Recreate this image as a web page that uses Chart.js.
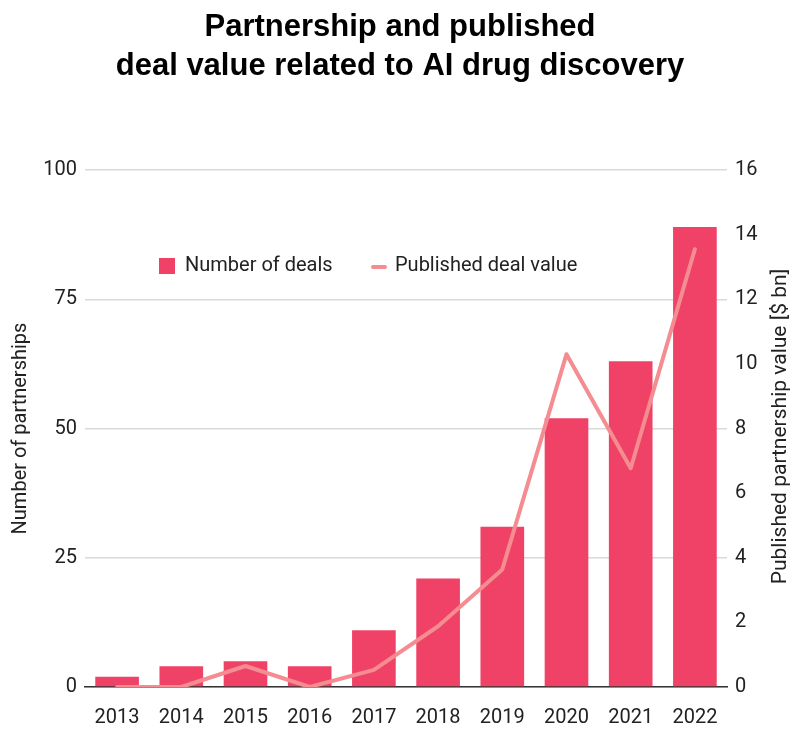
<!DOCTYPE html>
<html>
<head>
<meta charset="utf-8">
<script src="https://cdn.jsdelivr.net/npm/chart.js@4"></script>
<style>
html,body{margin:0;padding:0;background:#fff;}
#wrap{width:800px;height:729px;}
</style>
</head>
<body>
<div id="wrap"><canvas id="c" width="800" height="729"></canvas></div>
<script>
const years = ['2013','2014','2015','2016','2017','2018','2019','2020','2021','2022'];
const numberOfDeals = [2, 4, 5, 4, 11, 21, 31, 52, 63, 89];
const dealValueBn = [0, 0, 0.65, 0, 0.53, 1.88, 3.64, 10.3, 6.77, 13.55];
const leftTicks = [0, 25, 50, 75, 100];
const rightTicks = [0, 2, 4, 6, 8, 10, 12, 14, 16];
const titleLines = ['Partnership and published', 'deal value related to AI drug discovery'];
const leftAxisTitle = 'Number of partnerships';
const rightAxisTitle = 'Published partnership value [$ bn]';

const BAR = '#ef4266';
const LINE = '#f48c91';
const TXT = '#222222';
const FONT = 'Roboto, "Liberation Sans", sans-serif';

const legendPlugin = {
  id: 'customLegend',
  afterDraw(chart) {
    const ctx = chart.ctx;
    const ds = chart.data.datasets;
    const area = chart.chartArea;
    ctx.save();
    ctx.font = '20px ' + FONT;
    ctx.fillStyle = TXT;
    ctx.textBaseline = 'middle';
    const y = 266;
    ctx.fillStyle = ds[1].backgroundColor;
    ctx.fillRect(159, y - 8, 16, 16);
    ctx.fillStyle = TXT;
    ctx.fillText(ds[1].label, 185, y);
    ctx.strokeStyle = ds[0].borderColor;
    ctx.lineWidth = 4;
    ctx.lineCap = 'round';
    ctx.beginPath();
    ctx.moveTo(373, y + 1);
    ctx.lineTo(385, y + 1);
    ctx.stroke();
    ctx.fillText(ds[0].label, 395, y);
    // right axis title, reading bottom-to-top
    ctx.font = '21px ' + FONT;
    ctx.translate(781, (area.top + area.bottom) / 2 - 2);
    ctx.rotate(-Math.PI / 2);
    ctx.textAlign = 'center';
    ctx.textBaseline = 'middle';
    ctx.fillText(rightAxisTitle, 0, 0);
    ctx.restore();
  }
};

new Chart(document.getElementById('c'), {
  data: {
    labels: years,
    datasets: [
      {
        type: 'line',
        label: 'Published deal value',
        data: dealValueBn,
        yAxisID: 'y2',
        borderColor: LINE,
        backgroundColor: LINE,
        borderWidth: 4,
        pointRadius: 0,
        tension: 0,
        borderCapStyle: 'round',
        borderJoinStyle: 'round',
        order: 0
      },
      {
        type: 'bar',
        label: 'Number of deals',
        data: numberOfDeals,
        yAxisID: 'y',
        backgroundColor: BAR,
        categoryPercentage: 1,
        barPercentage: 0.68,
        order: 1
      }
    ]
  },
  options: {
    responsive: false,
    animation: false,
    layout: { padding: 0 },
    plugins: {
      legend: { display: false },
      tooltip: { enabled: false },
      title: {
        display: true,
        text: titleLines,
        color: '#000',
        font: { family: '"Liberation Sans", Arial, sans-serif', size: 31, weight: 'bold', lineHeight: 1.26 },
        padding: { top: 8, bottom: 83.9 }
      }
    },
    scales: {
      x: {
        grid: { display: false, drawTicks: false },
        border: { display: true, color: '#333', width: 1.5 },
        ticks: { color: TXT, font: { family: FONT, size: 20, lineHeight: 1 }, padding: 21, maxRotation: 0 },
        afterFit(s) { s.height = 42; }
      },
      y: {
        position: 'left',
        min: 0, max: 100,
        afterBuildTicks(s) { s.ticks = leftTicks.map(v => ({ value: v })); },
        grid: { color: '#d9d9d9', lineWidth: 1.5, drawTicks: false },
        border: { display: false },
        ticks: { color: TXT, font: { family: FONT, size: 20 }, padding: 8 },
        title: { display: true, text: leftAxisTitle, color: TXT, font: { family: FONT, size: 20, lineHeight: 1.2 }, padding: { top: 9, bottom: 0 } },
        afterFit(s) { s.width = 85; }
      },
      y2: {
        position: 'right',
        min: 0, max: 16,
        afterBuildTicks(s) { s.ticks = rightTicks.map(v => ({ value: v })); },
        grid: { display: false, drawTicks: false },
        border: { display: false },
        ticks: { color: TXT, font: { family: FONT, size: 20 }, padding: 8 },
        title: { display: false },
        afterFit(s) { s.width = 73; }
      }
    }
  },
  plugins: [legendPlugin]
});
</script>
</body>
</html>
